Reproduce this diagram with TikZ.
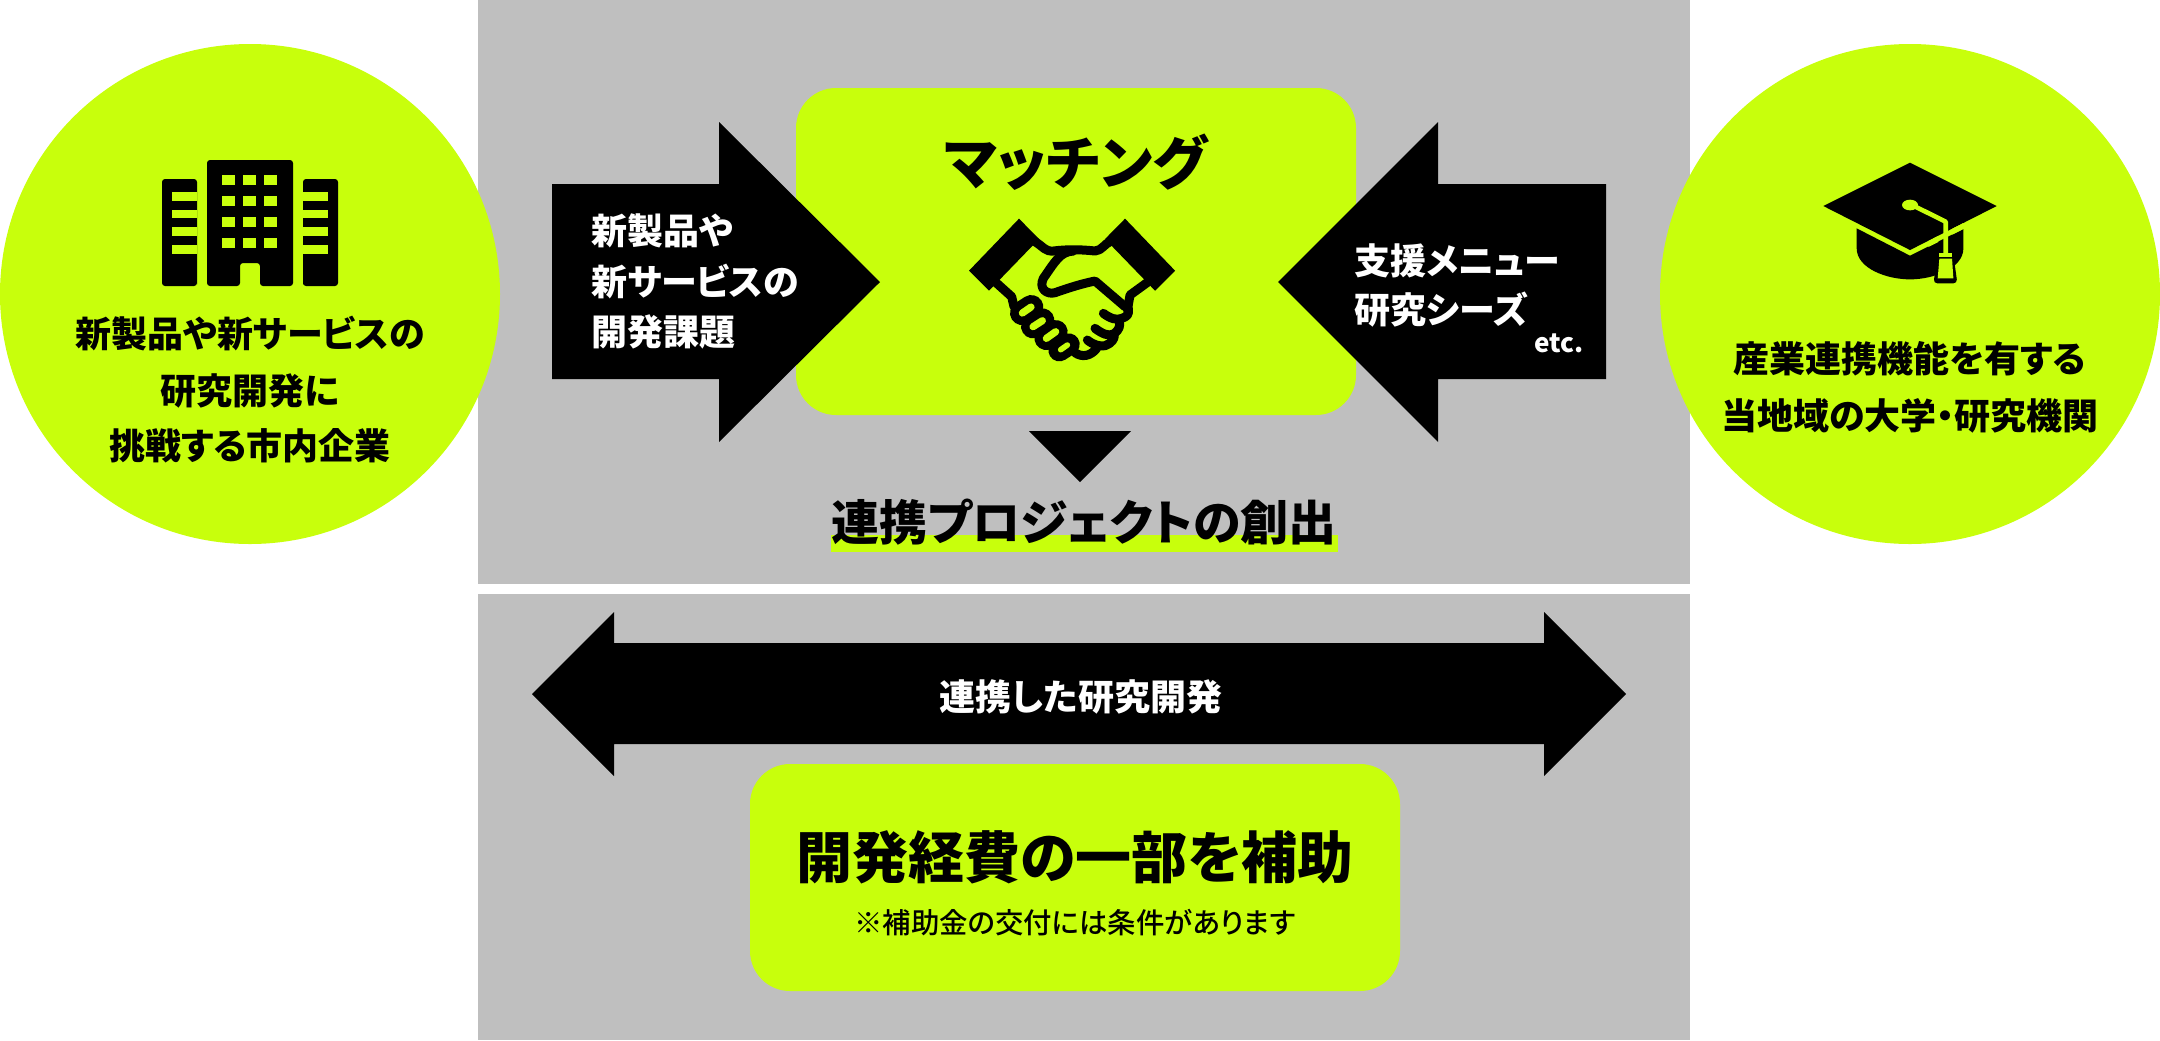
\documentclass[tikz,border=0pt]{standalone}
\usepackage{fontspec}
\setmainfont{Noto Sans CJK JP}[RawFeature={+palt}]
\newfontfamily\medfont{Noto Sans CJK JP Medium}[RawFeature={+palt}]
\definecolor{lime}{HTML}{C8FF0C}
\definecolor{panel}{HTML}{BFBFBF}
\tikzset{
  txt/.style={inner sep=0pt,anchor=base,font=\bfseries\fontsize{#1}{#1}\selectfont},
  txtw/.style={inner sep=0pt,anchor=base west,text=white,font=\bfseries\fontsize{#1}{#1}\selectfont},
  icon/.style={x=0.1667pt,y=-0.1667pt},
  band/.style={draw=black,line width=4.5pt,line join=round,line cap=round},
}
\begin{document}
\begin{tikzpicture}[x=0.5pt,y=-0.5pt]
\useasboundingbox (0,0) rectangle (2160,1040);
% panels
\fill[panel] (478,0) rectangle (1690,584);
\fill[panel] (478,594) rectangle (1690,1040);
% circles
\fill[lime] (250,294) circle[radius=125pt];
\fill[lime] (1910,294) circle[radius=125pt];
% green boxes
\fill[lime,rounded corners=20pt] (796,88) rectangle (1356,415);
\fill[lime,rounded corners=20pt] (750,764) rectangle (1400,991);
% arrows
\fill (552,184) -- (719,184) -- (719,122) -- (880,282) -- (719,442) -- (719,379) -- (552,379) -- cycle;
\fill (1606,184) -- (1438,184) -- (1438,122) -- (1278,282) -- (1438,442) -- (1438,379) -- (1606,379) -- cycle;
\fill (1029,431) -- (1131,431) -- (1080,482) -- cycle;
\fill (532,694) -- (614,612) -- (614,643) -- (1544,643) -- (1544,612) -- (1626,694) -- (1544,776) -- (1544,744) -- (614,744) -- (614,776) -- cycle;
% highlight
\fill[lime] (831,535) rectangle (1338,552);
% building
\fill[rounded corners=1.5pt] (207,286) -- (207,160) -- (293,160) -- (293,286) -- (260,286) -- (260,263) -- (240,263) -- (240,286) -- cycle;
\fill[rounded corners=1.5pt] (197,286) -- (162,286) -- (162,179) -- (197,179) -- (197,286) -- cycle;
\fill[rounded corners=1.5pt] (303,286) -- (338,286) -- (338,179) -- (303,179) -- (303,286) -- cycle;
\foreach \yy in {175,196,217,238}{\foreach \xx in {222,243,264}{\fill[lime] (\xx,\yy) rectangle ++(13,10);}}
\foreach \yy in {192,209.5,227,245}{\fill[lime] (172,\yy) rectangle (197,\yy+8.5);\fill[lime] (303,\yy) rectangle (328,\yy+8.5);}
% handshake
\begin{scope}[shift={(940,200)},icon]
\fill (237,56) -- (297,117) -- (147,272) -- (87,212) -- cycle;
\fill (555,56) -- (705,212) -- (645,272) -- (495,117) -- cycle;
\draw[band] (285,125) .. controls (310,140) and (315,155) .. (340,153) .. controls (380,148) and (420,148) .. (465,153) .. controls (485,152) and (495,130) .. (510,125);
\draw[band] (165,245) -- (215,290) -- (222,320);
\draw[band] (625,245) -- (570,285) -- (562,330);
\draw[band] (400,153) .. controls (360,155) and (345,185) .. (310,235) .. controls (295,265) and (320,285) .. (345,278) .. controls (390,262) and (430,250) .. (465,243) -- (555,320);
% right fingers
\draw[band] (490,340) .. controls (510,355) and (530,362) .. (545,355) .. controls (560,350) and (568,345) .. (565,325);
\draw[band] (465,385) .. controls (485,400) and (505,410) .. (520,402) .. controls (540,390) and (540,375) .. (538,365);
\draw[band] (442,420) .. controls (460,435) and (480,440) .. (495,437) .. controls (515,430) and (525,415) .. (522,405);
\draw[band] (405,458) .. controls (425,472) and (450,470) .. (470,445);
% left finger pills
\foreach \cx/\cy/\w in {260/330/12,293/370/12,333/405/12,372/442/11}{
  \draw[black,line width=\w pt,line cap=round] (\cx-14,\cy+9) -- (\cx+14,\cy-9);
}
\foreach \cx/\cy/\h/\v/\w in {260/330/13/9/3.6,293/371/14/9/3.6,333/405/14/10/3.6,372/442/10/7/2.8}{
  \draw[lime,line width=\w pt,line cap=round] (\cx-\h,\cy+\v) -- (\cx+\h,\cy-\v);
}
\end{scope}
% cap
\begin{scope}[shift={(1800,140)},icon]
\fill (170,265) -- (330,347) -- (490,267) -- (490,325) .. controls (490,385) and (400,418) .. (330,418) .. controls (260,418) and (170,385) .. (170,325) -- cycle;
\fill (330,68) -- (590,198) -- (330,330) -- (70,198) -- cycle;
\fill[rounded corners=2pt] (416,330) -- (458,330) -- (472,430) -- (400,430) -- cycle;
\fill[lime] (330,195) ellipse[x radius=24,y radius=16];
\draw[lime,line width=2.3pt,line join=round] (340,197) -- (437,245) -- (437,340);
\fill[lime] (418,338) rectangle (456,350);
\fill[lime] (418,356) -- (456,356) -- (460,415) -- (413,415) -- cycle;
\fill[lime] (415,288) -- (415,306) -- (385,321) -- (385,303) -- cycle;
\fill[lime] (457,266) -- (490,249) -- (490,267) -- (457,284) -- cycle;
\end{scope}
% text
\node[txt=18pt] (lc1) at (250,347) {新製品や新サービスの};
\node[txt=18pt] (lc2) at (250,404) {研究開発に};
\node[txt=18pt] (lc3) at (250,459) {挑戦する市内企業};
\node[txt=18pt] (rc1) at (1910,372) {産業連携機能を有する};
\node[txt=18pt] (rc2) at (1910,429) {当地域の大学・研究機関};
\node[txtw=18pt] (la1) at (591,244) {新製品や};
\node[txtw=18pt] (la2) at (591,295) {新サービスの};
\node[txtw=18pt] (la3) at (591,345) {開発課題};
\node[txtw=18pt] (ra1) at (1354,274) {支援メニュー};
\node[txtw=18pt] (ra2) at (1354,323) {研究シーズ};
\node[inner sep=0pt,anchor=base east,text=white,font=\bfseries\fontsize{13pt}{13pt}\selectfont] (etc) at (1584,352) {etc.};
\node[txt=28.8pt] (match) at (1076,184) {マッチング};
\node[txt=24pt] (proj) at (1084,540) {連携プロジェクトの創出};
\node[txt=18pt,text=white] (joint) at (1081,710) {連携した研究開発};
\node[txt=28pt] (sub) at (1075,878) {開発経費の一部を補助};
\node[inner sep=0pt,anchor=base,font=\medfont\fontsize{14.2pt}{14.2pt}\selectfont] (note) at (1075,933) {※補助金の交付には条件があります};
\end{tikzpicture}
\end{document}
